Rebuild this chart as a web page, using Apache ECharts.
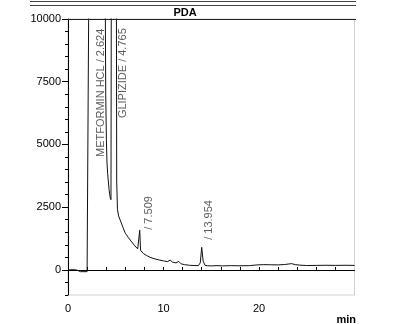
<!DOCTYPE html>
<html>
<head>
<meta charset="utf-8">
<script src="https://cdn.jsdelivr.net/npm/echarts/dist/echarts.min.js"></script>
<style>
  html, body { margin: 0; padding: 0; background: #fff; }
  #chart { width: 394px; height: 324px; }
</style>
</head>
<body>
<div id="chart"></div>
<script>
// PDA trace, retention time (min) and signal
const times = [0, 0.5, 0.9, 1.0, 1.3, 2.0, 2.15, 2.2, 2.24,
  3.85, 3.95, 4.02, 4.08, 4.15, 4.3, 4.42, 4.5, 4.55,
  5.05, 5.1, 5.18, 5.3, 5.5, 5.75, 6.0, 6.3, 6.6, 7.0, 7.3, 7.42, 7.51, 7.6, 7.7, 7.9,
  8.2, 8.6, 9.0, 9.5, 10.0, 10.4, 10.7, 10.95, 11.3, 11.6, 11.85, 12.2, 12.7, 13.2,
  13.65, 13.85, 14.0, 14.15, 14.35, 14.6, 15.0, 15.6, 16.2, 17.0, 18.0, 19.0, 19.8,
  20.5, 21.2, 22.0, 22.7, 23.4, 23.8, 24.3, 25.0, 26.0, 27.0, 28.0, 29.0, 30.0]
const signal = [0, 10, 0, -50, -70, -70, -60, -40, 15000,
  15000, 7000, 5200, 4300, 3850, 3200, 2880, 2800, 15000,
  15000, 3500, 2400, 2150, 1950, 1700, 1460, 1300, 1150, 960, 840, 800, 1580, 780, 720, 650,
  580, 500, 450, 400, 360, 330, 390, 310, 280, 340, 240, 210, 185, 175,
  170, 280, 900, 350, 180, 165, 160, 170, 160, 170, 165, 170, 200,
  210, 205, 200, 215, 250, 210, 190, 175, 180, 185, 180, 185, 180]

// peak annotations (where the rotated text starts)
const peakNames = ['METFORMIN HCL / 2.624', 'GLIPIZIDE / 4.765', '/ 7.509', '/ 13.954']
const peakLabelX = [3.5, 5.8, 8.5, 14.75]
const peakLabelY = [4500, 6050, 1600, 1200]

const yMajor = [0, 2500, 5000, 7500, 10000]

const chart = echarts.init(document.getElementById('chart'), null, { renderer: 'canvas' })

const font = 'Liberation Sans, Arial, sans-serif'

const option = {
  animation: false,
  backgroundColor: '#fff',
  title: {
    text: 'PDA',
    left: 185,
    top: 7,
    padding: 0,
    textAlign: 'center',
    textStyle: { fontSize: 11, fontWeight: 'bold', color: '#000', fontFamily: font }
  },
  grid: {
    left: 68, right: 39.5, top: 19, bottom: 29,
    outerBoundsMode: 'none',
    show: true,
    borderColor: '#d0d0d0',
    borderWidth: 1
  },
  xAxis: {
    type: 'value',
    min: 0, max: 30, interval: 2,
    axisLine: { lineStyle: { color: '#000', width: 1 } },
    axisTick: { inside: true, length: 3, lineStyle: { color: '#000' } },
    axisLabel: {
      margin: 8, fontSize: 11, color: '#000', fontFamily: font,
      showMaxLabel: false,
      formatter: v => (v % 10 === 0 && v < 30 ? String(v) : '')
    },
    splitLine: { show: false }
  },
  yAxis: [
    {
      type: 'value',
      min: -1000, max: 10000, interval: 500,
      axisLine: { show: true, lineStyle: { color: '#000', width: 1 } },
      axisTick: { show: true, length: 3, lineStyle: { color: '#000' } },
      axisLabel: {
        margin: 7, fontSize: 11, color: '#000', fontFamily: font,
        formatter: v => (v % 2500 === 0 && v >= 0 ? String(v) : '')
      },
      splitLine: { show: false }
    },
    {
      // longer ticks at the labelled values
      type: 'value',
      position: 'left',
      min: -1000, max: 10000,
      axisLine: { show: false },
      axisTick: { show: true, length: 6, customValues: yMajor, lineStyle: { color: '#000' } },
      axisLabel: { show: false },
      splitLine: { show: false }
    }
  ],
  graphic: [
    { type: 'line', shape: { x1: 30, y1: 1.5, x2: 356, y2: 1.5 }, style: { stroke: '#444', lineWidth: 1 } },
    { type: 'line', shape: { x1: 30, y1: 5.5, x2: 356, y2: 5.5 }, style: { stroke: '#444', lineWidth: 1 } },
    { type: 'line', shape: { x1: 68, y1: 19.5, x2: 356, y2: 19.5 }, style: { stroke: '#222', lineWidth: 1 }, z: 100 },
    // axis unit under the end of the time axis
    {
      type: 'text', right: 38, top: 314,
      style: { text: 'min', fill: '#000', font: 'bold 11px Liberation Sans, Arial, sans-serif' }
    }
  ],
  series: [
    {
      type: 'line',
      data: times.map((t, i) => [t, signal[i]]),
      showSymbol: false,
      symbol: 'none',
      clip: true,
      lineStyle: { color: '#111', width: 1 },
      silent: true
    },
    {
      type: 'scatter',
      data: peakLabelX.map((t, i) => [t, peakLabelY[i]]),
      symbolSize: 0,
      silent: true,
      label: {
        show: true,
        position: [0, 0],
        rotate: 90,
        align: 'left',
        verticalAlign: 'middle',
        fontSize: 11,
        color: '#333',
        fontFamily: font,
        formatter: p => peakNames[p.dataIndex]
      }
    }
  ]
}

chart.setOption(option)
</script>
</body>
</html>
